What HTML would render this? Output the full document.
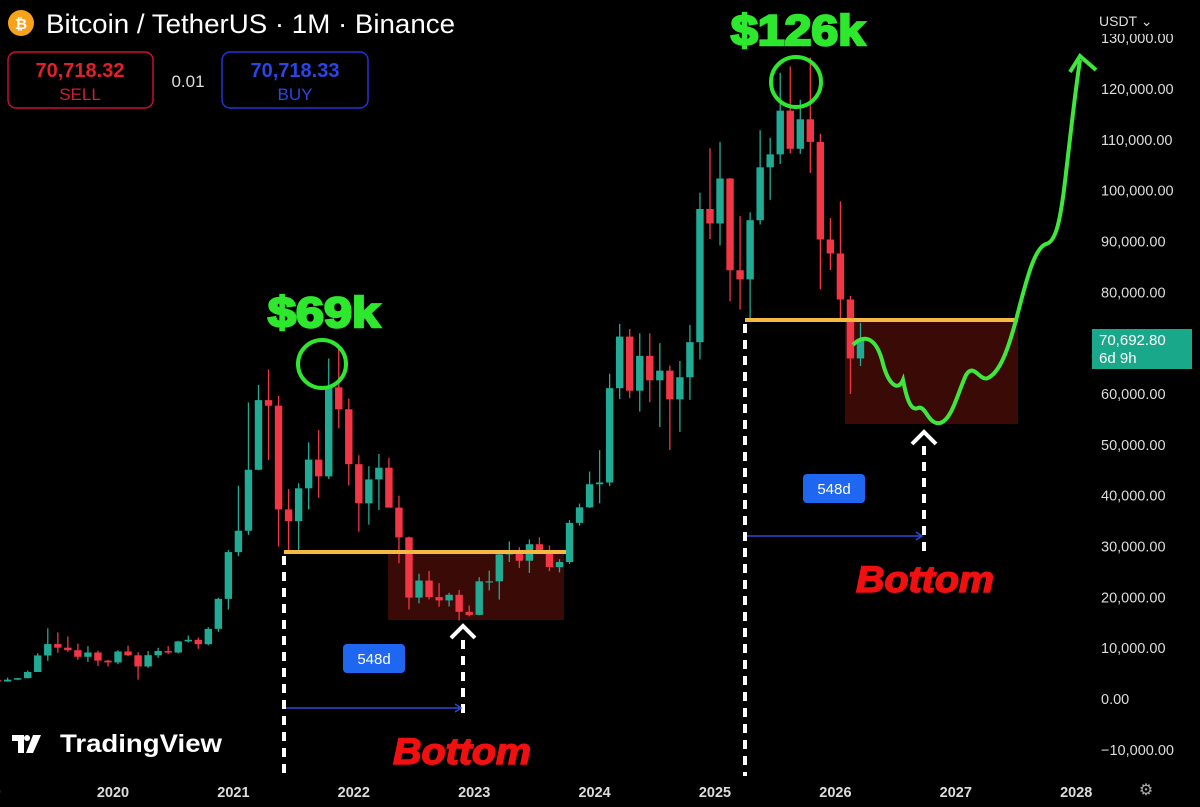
<!DOCTYPE html>
<html><head><meta charset="utf-8"><style>
html,body{margin:0;padding:0;background:#000;width:1200px;height:807px;overflow:hidden;font-family:"Liberation Sans",sans-serif}
svg{display:block}
</style></head><body>
<svg id="chart" width="1200" height="807" xmlns="http://www.w3.org/2000/svg">
<rect width="1200" height="807" fill="#000"/>
<g id="overlays-back">
 <rect x="388" y="552" width="176" height="68" fill="#3a0a06"/>
 <rect x="845" y="320" width="173" height="104" fill="#3a0a06"/>
</g>
<g id="candles"></g>
<g id="yaxis"></g>
<g id="xaxis"></g>
<g>
 <line x1="284" y1="552" x2="566" y2="552" stroke="#f5b942" stroke-width="4"/>
 <line x1="745" y1="320" x2="1018" y2="320" stroke="#f5b942" stroke-width="4"/>
 <circle cx="322" cy="364" r="24" fill="none" stroke="#2ee82e" stroke-width="4"/>
 <circle cx="796" cy="82" r="25" fill="none" stroke="#2ee82e" stroke-width="4"/>
 <text x="324" y="327" font-size="43" font-weight="bold" fill="#2ee82e" stroke="#2ee82e" stroke-width="2.5" text-anchor="middle" textLength="112" lengthAdjust="spacingAndGlyphs">$69k</text>
 <text x="798" y="45" font-size="43" font-weight="bold" fill="#2ee82e" stroke="#2ee82e" stroke-width="2.5" text-anchor="middle" textLength="134" lengthAdjust="spacingAndGlyphs">$126k</text>
 <g stroke="#fff" stroke-width="4" stroke-dasharray="9,7" fill="none">
  <line x1="284" y1="556" x2="284" y2="776"/>
  <line x1="463" y1="640" x2="463" y2="718"/>
  <line x1="745" y1="324" x2="745" y2="776"/>
  <line x1="924" y1="446" x2="924" y2="556"/>
 </g>
 <polyline points="451,638 463,626 475,638" fill="none" stroke="#fff" stroke-width="4"/>
 <polyline points="912,444 924,432 936,444" fill="none" stroke="#fff" stroke-width="4"/>
 <line x1="286" y1="708" x2="460" y2="708" stroke="#2a4bd6" stroke-width="1.5"/>
 <polyline points="455,704 461,708 455,712" fill="none" stroke="#2a4bd6" stroke-width="1.5"/>
 <line x1="747" y1="536" x2="921" y2="536" stroke="#2a4bd6" stroke-width="1.5"/>
 <polyline points="916,532 922,536 916,540" fill="none" stroke="#2a4bd6" stroke-width="1.5"/>
 <rect x="343" y="644" width="62" height="29" rx="4" fill="#1f66f0"/>
 <text x="374" y="664" font-size="15" fill="#fff" text-anchor="middle">548d</text>
 <rect x="803" y="474" width="62" height="29" rx="4" fill="#1f66f0"/>
 <text x="834" y="494" font-size="15" fill="#fff" text-anchor="middle">548d</text>
 <text x="462" y="764" font-size="37" font-weight="bold" font-style="italic" fill="#f01010" stroke="#f01010" stroke-width="1.5" text-anchor="middle" textLength="138" lengthAdjust="spacingAndGlyphs">Bottom</text>
 <text x="925" y="592" font-size="37" font-weight="bold" font-style="italic" fill="#f01010" stroke="#f01010" stroke-width="1.5" text-anchor="middle" textLength="138" lengthAdjust="spacingAndGlyphs">Bottom</text>
 <path d="M853,345 C862,335 875,335 882,360 C888,385 898,392 903,380 C906,395 910,412 918,408 C926,405 928,425 940,423 C952,420 958,392 966,375 C974,362 980,382 988,378 C1000,372 1008,350 1016,320 C1026,282 1034,248 1046,244 C1056,242 1060,220 1064,190 C1070,140 1074,100 1080,60" fill="none" stroke="#3ee83a" stroke-width="4"/>
 <polyline points="1070,72 1080,56 1096,70" fill="none" stroke="#3ee83a" stroke-width="4"/>
</g>
<g>
 <circle cx="21" cy="23" r="13" fill="#f7a21b"/>
 <text x="21" y="29" font-size="15" font-weight="bold" fill="#fff" text-anchor="middle">₿</text>
 <text x="46" y="33" font-size="27" fill="#fff" textLength="409" lengthAdjust="spacingAndGlyphs">Bitcoin / TetherUS · 1M · Binance</text>
 <rect x="8" y="52" width="145" height="56" rx="8" fill="none" stroke="#c8102e" stroke-width="1.5"/>
 <text x="80" y="77" font-size="20" font-weight="bold" fill="#e0202e" text-anchor="middle">70,718.32</text>
 <text x="80" y="100" font-size="17" fill="#d0202e" text-anchor="middle">SELL</text>
 <text x="188" y="87" font-size="17" fill="#ddd" text-anchor="middle">0.01</text>
 <rect x="222" y="52" width="146" height="56" rx="8" fill="none" stroke="#2433d6" stroke-width="1.5"/>
 <text x="295" y="77" font-size="20" font-weight="bold" fill="#2a45e8" text-anchor="middle">70,718.33</text>
 <text x="295" y="100" font-size="17" fill="#2a45e8" text-anchor="middle">BUY</text>
 <rect x="1092" y="0" width="108" height="34" fill="#000"/>
 <text x="1099" y="26" font-size="14" fill="#ddd">USDT ⌄</text>
 <rect x="1092" y="329" width="100" height="40" fill="#1aa88a"/>
 <text x="1099" y="345" font-size="15" fill="#fff">70,692.80</text>
 <text x="1099" y="363" font-size="15" fill="#fff">6d 9h</text>
 <g>
  <path d="M12,735 h12 v18 h-6 v-12 h-6z M27,741 a3,3 0 1,1 0.1,0z M33,735 h8 l-8,18 h-7z" fill="#fff"/>
  <text x="60" y="752" font-size="25" font-weight="bold" fill="#fff" textLength="162" lengthAdjust="spacingAndGlyphs">TradingView</text>
 </g>
 <text x="1146" y="795" font-size="16" fill="#aaa" text-anchor="middle">⚙</text>
</g>
</svg>
<script>
const years=[2019,2020,2021,2022,2023,2024,2025,2026];
const opens=[3700,3440,3810,4100,5320,8570,10800,10100,9600,8300,9150,7550,
7200,9350,8600,6400,8620,9450,9140,11330,11650,10780,13800,19700,
28900,33100,45100,58800,57700,37300,35000,41450,47100,43800,61300,57000,
46200,38500,43200,45500,37650,31800,19950,23300,20050,19400,20500,17150,
16550,23150,23150,28450,29250,27200,30450,29250,25950,26950,34650,37700,
42250,42600,61150,71300,60650,67500,62700,64600,58950,63300,70200,96400,
93550,102400,84350,82550,94200,104600,107150,115750,108250,114050,109600,90400,
87650,78600,67000];
const highs=[3800,4200,4100,5600,9000,13900,13100,12300,10900,10400,9500,7700,
9600,10500,9200,9450,10070,10400,11450,12470,12070,14100,19900,29300,
41950,58350,61800,64850,59600,41300,42450,50500,52900,67000,69000,59100,
47950,45800,48200,47450,40000,31950,24650,25200,22800,20900,21450,18400,
23950,25250,29200,31000,29850,31400,31800,30200,27500,35200,38450,44750,
48950,64000,73800,72800,71950,71950,70000,65600,66500,73600,99600,108350,
109600,102500,95000,95750,111900,110400,123200,124450,117900,126200,111200,94600,
97900,79300,74000];
const lows=[3350,3400,3700,4050,5300,7500,9100,9300,7700,7300,6500,6400,
6850,8450,3800,6150,8100,8830,8980,11100,9880,10550,13200,17600,
28100,32300,45000,47000,30000,28800,29300,37300,39600,43300,53250,42000,
32900,34300,37200,37700,26700,17600,18800,19600,18150,18200,15450,16250,
16500,21350,19550,26950,25800,24800,28850,25150,24900,26550,34100,37600,
38500,41900,59000,59200,56550,58400,53500,49000,52550,58850,66800,90500,
89250,78250,76600,74500,93350,98200,105250,107350,107250,103500,80600,84400,
74500,60000,65500];
const closes=[3440,3810,4100,5320,8570,10800,10100,9600,8300,9150,7550,7200,
9350,8600,6400,8620,9450,9140,11330,11650,10780,13800,19700,28900,
33100,45100,58800,57700,37300,35000,41450,47100,43800,61300,57000,46200,
38500,43200,45500,37650,31800,19950,23300,20050,19400,20500,17150,16550,
23150,23150,28450,29250,27200,30450,29250,25950,26950,34650,37700,42250,
42600,61150,71300,60650,67500,62700,64600,58950,63300,70200,96400,93550,
102400,84350,82550,94200,104600,107150,115750,108250,114050,109600,90400,87650,
78600,67000,70700];
const yTicks=[-10000,0,10000,20000,30000,40000,50000,60000,70000,80000,90000,100000,110000,120000,130000];
const xLabels=["19","2020","2021","2022","2023","2024","2025","2026","2027","2028"];
const xLabelYears=[2019,2020,2021,2022,2023,2024,2025,2026,2027,2028];
const NS="http://www.w3.org/2000/svg";
function yS(v){return 699-v*0.005083;}
function xS(t){return 113+(t-2020)*120.4;}
function mk(tag,attrs,parent){const e=document.createElementNS(NS,tag);for(const k in attrs)e.setAttribute(k,attrs[k]);parent.appendChild(e);return e;}
const cg=document.getElementById('candles');
for(let i=0;i<opens.length;i++){
 const t=years[0]+i/12+1/24;const x=xS(t);
 const up=closes[i]>=opens[i];const col=up?'#22ab94':'#f23645';
 const w=mk('line',{x1:x,x2:x,y1:yS(highs[i]),y2:yS(lows[i]),stroke:col,'stroke-width':1.3},cg);
 
 
 const top=yS(Math.max(opens[i],closes[i])),bot=yS(Math.min(opens[i],closes[i]));
 const b=mk('rect',{x:x-3.7,y:top,width:7.4,height:Math.max(1.2,bot-top),fill:col},cg);
 
 
}
const yg=document.getElementById('yaxis');
yTicks.forEach(v=>{const t=mk('text',{x:1101,y:yS(v)+5,'font-size':14.5,fill:'#ddd'},yg);
 t.textContent=(v<0?'−':'')+Math.abs(v).toLocaleString('en-US',{minimumFractionDigits:2});
 
 });
const xg=document.getElementById('xaxis');
xLabels.forEach((l,i)=>{const t=mk('text',{x:xS(xLabelYears[i]),y:797,'font-size':14.5,'font-weight':'bold',fill:'#ddd','text-anchor':'middle'},xg);
 t.textContent=l;
 
 });
</script>
</body></html>
